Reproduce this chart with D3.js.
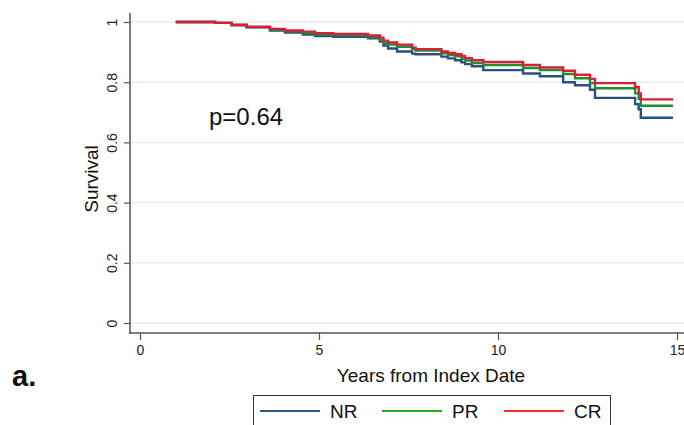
<!DOCTYPE html>
<html>
<head>
<meta charset="utf-8">
<script src="https://cdn.jsdelivr.net/npm/d3@7"></script>
<style>
  body { margin: 0; background: #fff; }
  svg { display: block; font-family: "Liberation Sans", Arial, sans-serif; }
</style>
</head>
<body>
<svg id="chart" width="684" height="425"></svg>
<script>
// step times (years) shared by the three curves
var stepTimes = [1, 2.1, 2.56, 2.98, 3.63, 4.05, 4.55, 4.89, 5.4, 6.37, 6.7, 6.8, 6.93, 7.18, 7.6, 7.7,
                 8.42, 8.6, 8.8, 8.98, 9.08, 9.27, 9.59, 10.7, 11.17, 11.82, 12.15, 12.57, 12.71, 13.83, 13.93, 13.99];
var endTime = 14.89;

var nrSurv = [1, 0.997, 0.99, 0.982, 0.972, 0.965, 0.958, 0.953, 0.951, 0.946, 0.935, 0.922, 0.912, 0.902, 0.895, 0.893,
              0.885, 0.879, 0.873, 0.866, 0.86, 0.853, 0.84, 0.829, 0.82, 0.8, 0.79, 0.775, 0.748, 0.727, 0.71, 0.682];
var prSurv = [1, 0.997, 0.99, 0.983, 0.975, 0.969, 0.964, 0.959, 0.956, 0.95, 0.94, 0.93, 0.925, 0.918, 0.91, 0.905,
              0.896, 0.89, 0.886, 0.878, 0.872, 0.864, 0.857, 0.847, 0.84, 0.827, 0.813, 0.797, 0.78, 0.763, 0.745, 0.722];
var crSurv = [1, 0.997, 0.99, 0.984, 0.977, 0.972, 0.968, 0.963, 0.96, 0.955, 0.948, 0.938, 0.932, 0.925, 0.915, 0.91,
              0.902, 0.897, 0.893, 0.887, 0.88, 0.873, 0.867, 0.857, 0.849, 0.838, 0.825, 0.811, 0.797, 0.783, 0.763, 0.743];

var seriesNames = ["NR", "PR", "CR"];
var lineColors = ["#2b4f7e", "#1f8f2a", "#d81e3c"];
var legendColors = ["#2e5a87", "#22b022", "#ff2a2a"];
var xTicks = [0, 5, 10, 15];
var yTicks = [0, 0.2, 0.4, 0.6, 0.8, 1];

var svg = d3.select("#chart");
var x = d3.scaleLinear().domain([0, 15]).range([140, 677]);
var y = d3.scaleLinear().domain([0, 1]).range([323, 22]);

// gridlines
svg.append("g").selectAll("line")
  .data(yTicks).enter().append("line")
  .attr("x1", 131).attr("x2", 684)
  .attr("y1", function(d) { return y(d); })
  .attr("y2", function(d) { return y(d); })
  .attr("stroke", "#e6edf3").attr("stroke-width", 1.5);

// y axis
var yAxis = d3.axisLeft(y).tickValues(yTicks).tickSize(6).tickSizeOuter(0)
  .tickFormat(function(d) { return d === 0 || d === 1 ? d : d3.format(".1f")(d); });
var gy = svg.append("g").attr("transform", "translate(130,0)").call(yAxis);
gy.select(".domain").remove();
gy.selectAll("line").attr("stroke", "#555").attr("stroke-width", 1.2);
gy.selectAll("text")
  .attr("transform", "rotate(-90)")
  .attr("x", 0)
  .attr("y", -18)
  .attr("dy", "0.35em")
  .attr("text-anchor", "middle")
  .attr("font-size", 14).attr("fill", "#222");
svg.append("line").attr("x1", 130).attr("x2", 130).attr("y1", 13).attr("y2", 334)
  .attr("stroke", "#555").attr("stroke-width", 1.5);

// x axis
var xAxis = d3.axisBottom(x).tickValues(xTicks).tickSize(7).tickSizeOuter(0);
var gx = svg.append("g").attr("transform", "translate(0,333)").call(xAxis);
gx.select(".domain").remove();
gx.selectAll("line").attr("stroke", "#555").attr("stroke-width", 1.2);
gx.selectAll("text").attr("y", 12).attr("dy", "0.71em").attr("font-size", 14).attr("fill", "#222");
svg.append("line").attr("x1", 129).attr("x2", 684).attr("y1", 333).attr("y2", 333)
  .attr("stroke", "#555").attr("stroke-width", 1.5);

// axis titles
svg.append("text").attr("x", 431).attr("y", 382).attr("text-anchor", "middle")
  .attr("font-size", 19).attr("fill", "#111").text("Years from Index Date");
svg.append("text").attr("transform", "translate(98,179) rotate(-90)").attr("text-anchor", "middle")
  .attr("font-size", 19).attr("fill", "#111").text("Survival");

// p value
svg.append("text").attr("x", 209).attr("y", 125).attr("font-size", 24).attr("fill", "#111").text("p=0.64");

// panel label
svg.append("text").attr("x", 12).attr("y", 386).attr("font-size", 29).attr("font-weight", "bold")
  .attr("fill", "#111").text("a.");

// curves
var allSurv = [nrSurv, prSurv, crSurv];
var line = d3.line()
  .x(function(d) { return x(d.t); })
  .y(function(d) { return y(d.s); })
  .curve(d3.curveStepAfter);

allSurv.forEach(function(vals, i) {
  var pts = stepTimes.map(function(t, j) { return { t: t, s: vals[j] }; });
  pts.push({ t: endTime, s: vals[vals.length - 1] });
  svg.append("path").datum(pts)
    .attr("d", line)
    .attr("fill", "none")
    .attr("stroke", lineColors[i])
    .attr("stroke-width", 2.4);
});

// legend
var lg = svg.append("g");
lg.append("rect").attr("x", 253.5).attr("y", 395.5).attr("width", 357).attr("height", 40)
  .attr("fill", "#fff").attr("stroke", "#333").attr("stroke-width", 1);
var legX = [260, 382, 504];
seriesNames.forEach(function(name, i) {
  lg.append("line").attr("x1", legX[i]).attr("x2", legX[i] + 60)
    .attr("y1", 411).attr("y2", 411)
    .attr("stroke", legendColors[i]).attr("stroke-width", 2);
  lg.append("text").attr("x", legX[i] + 70).attr("y", 418)
    .attr("font-size", 19).attr("fill", "#111").text(name);
});
</script>
</body>
</html>
